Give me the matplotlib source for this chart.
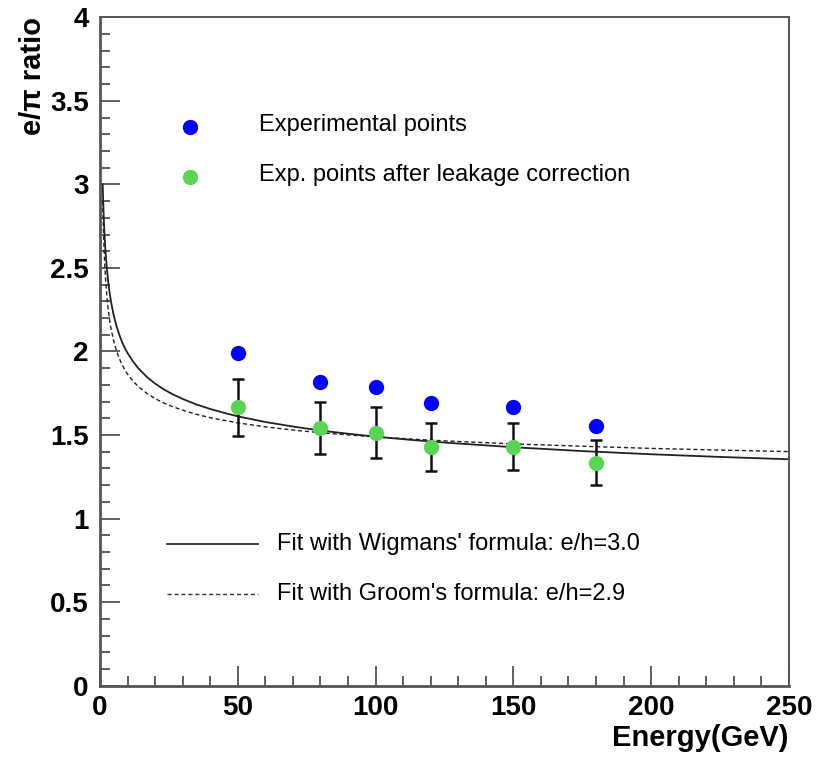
import matplotlib
matplotlib.use("Agg")
import matplotlib.pyplot as plt
from matplotlib.ticker import MultipleLocator

plt.rcParams['font.family'] = ['Liberation Sans', 'DejaVu Sans']

# --- data ---
energy = [50, 80, 100, 120, 150, 180]
ratio_exp = [1.99, 1.82, 1.79, 1.69, 1.67, 1.555]
ratio_corr = [1.665, 1.54, 1.515, 1.43, 1.43, 1.335]
ratio_corr_err = [0.17, 0.155, 0.15, 0.145, 0.14, 0.135]

# fit curves, sampled along the drawn lines
fit_energy = [1, 1.25, 1.5, 1.75, 2, 2.5, 3, 3.5, 4, 5, 6, 7, 8, 9, 10, 12, 14,
              17, 20, 23, 26, 30, 35, 40, 45, 50, 60, 70, 80, 90, 100, 115,
              125, 150, 175, 200, 225, 250]
fit_wigmans = [3.000, 2.860, 2.754, 2.671, 2.603, 2.497, 2.416, 2.352, 2.299,
               2.215, 2.152, 2.101, 2.058, 2.022, 1.991, 1.940, 1.898, 1.848,
               1.808, 1.775, 1.747, 1.716, 1.683, 1.656, 1.633, 1.612, 1.578,
               1.551, 1.527, 1.508, 1.490, 1.468, 1.455, 1.427, 1.404, 1.385,
               1.369, 1.355]
fit_groom = [2.900, 2.729, 2.607, 2.516, 2.442, 2.332, 2.251, 2.188, 2.138,
             2.061, 2.003, 1.959, 1.922, 1.891, 1.865, 1.823, 1.789, 1.750,
             1.718, 1.693, 1.672, 1.649, 1.624, 1.604, 1.588, 1.573, 1.549,
             1.530, 1.514, 1.501, 1.489, 1.474, 1.465, 1.447, 1.433, 1.420,
             1.410, 1.401]

legend_points = ["Experimental points", "Exp. points after leakage correction"]
legend_fits = ["Fit with Wigmans' formula: e/h=3.0",
               "Fit with Groom's formula: e/h=2.9"]

blue = "#0000ff"
green = "#59d454"

fig = plt.figure(figsize=(8.18, 7.59), dpi=100)
ax = fig.add_axes([0.1222, 0.0966, 0.8423, 0.8806])

# fits
ax.plot(fit_energy, fit_wigmans, color="#222222", lw=1.3, zorder=2)
ax.plot(fit_energy, fit_groom, color="#222222", lw=1.0, dashes=(3, 2), zorder=2)

# points
ax.errorbar(energy, ratio_corr, yerr=ratio_corr_err, fmt="none", ecolor="#111111",
            elinewidth=1.8, capsize=4, capthick=1.8, zorder=3)
ax.plot(energy, ratio_exp, "o", color=blue, ms=11, mec="none", zorder=4)
ax.plot(energy, ratio_corr, "o", color=green, ms=11, mec="none", zorder=4)

ax.set_xlim(0, 250)
ax.set_ylim(0, 4)

# axis styling (ROOT-like)
ax.xaxis.set_major_locator(MultipleLocator(50))
ax.xaxis.set_minor_locator(MultipleLocator(10))
ax.yaxis.set_major_locator(MultipleLocator(0.5))
ax.yaxis.set_minor_locator(MultipleLocator(0.1))
ax.tick_params(which="both", direction="in", top=False, right=False,
               color="#444444", width=1.2)
ax.tick_params(which="major", length=14.5)
ax.tick_params(which="minor", length=7.2)
ax.tick_params(axis="x", pad=7)
ax.tick_params(axis="y", pad=8)
for lab in ax.get_xticklabels() + ax.get_yticklabels():
    lab.set_fontsize(20)
    lab.set_fontweight("bold")
ax.yaxis.set_major_formatter(plt.FuncFormatter(lambda v, p: f"{v:g}"))

for side in ["left", "bottom"]:
    ax.spines[side].set_linewidth(2.0)
    ax.spines[side].set_color("#555555")
for side in ["top", "right"]:
    ax.spines[side].set_linewidth(1.4)
    ax.spines[side].set_color("#555555")

ax.set_xlabel("Energy(GeV)", fontsize=21, fontweight="bold", loc="right", labelpad=2)
ax.set_ylabel("e/π ratio", fontsize=21, fontweight="bold", loc="top", labelpad=2)

# legend for points (drawn by hand at axes coordinates)
for i, (lab, col) in enumerate(zip(legend_points, [blue, green])):
    yy = 0.836 - i * 0.0745
    ax.plot([0.131], [yy], "o", color=col, ms=11, mec="none", transform=ax.transAxes,
            clip_on=False)
    ax.text(0.231, yy + 0.003, lab, fontsize=17, va="center", ha="left",
            transform=ax.transAxes)

# legend for fits
for i, (lab, ls) in enumerate(zip(legend_fits, ["-", "--"])):
    yy = 0.212 - i * 0.075
    if ls == "-":
        ax.plot([0.098, 0.230], [yy, yy], color="#333333", lw=1.3, transform=ax.transAxes)
    else:
        ax.plot([0.098, 0.230], [yy, yy], color="#333333", lw=1.0, dashes=(3, 2),
                transform=ax.transAxes)
    ax.text(0.257, yy, lab, fontsize=17, va="center", ha="left", transform=ax.transAxes)

fig.savefig("out.png", dpi=100)
